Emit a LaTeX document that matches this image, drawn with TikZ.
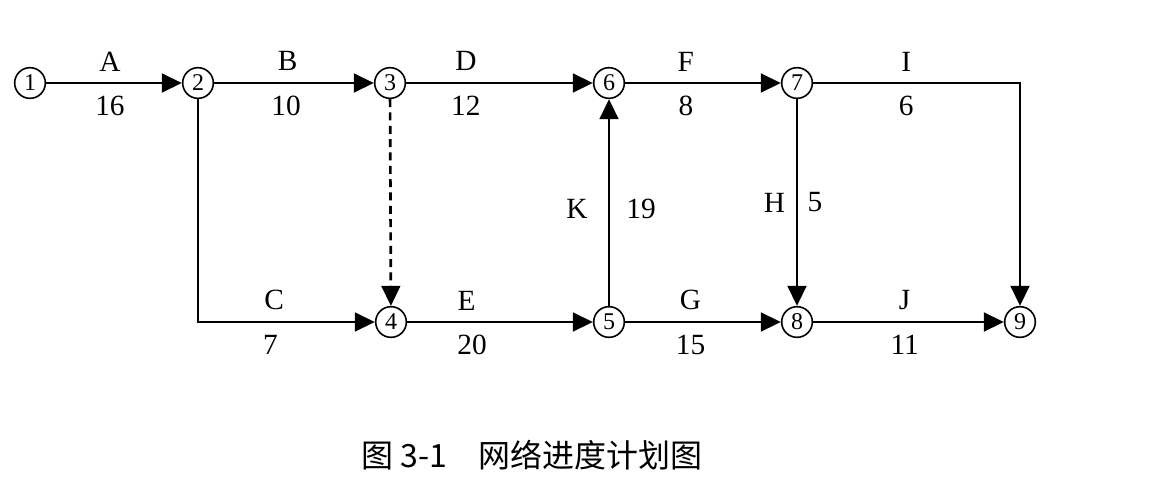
\documentclass[tikz,border=0pt]{standalone}
\usepackage{fontspec}
\setmainfont{Liberation Serif}
\newfontfamily\cjk{Noto Sans CJK SC}
\usetikzlibrary{arrows.meta}
\begin{document}
\begin{tikzpicture}[x=0.75pt,y=-0.75pt,
  ev/.style={circle,draw,line width=1.2pt,minimum size=23pt,inner sep=0pt,font=\fontsize{18}{18}\selectfont},
  act/.style={line width=2pt,-{Triangle[length=15pt,width=14pt]}},
  lbl/.style={font=\fontsize{22}{22}\selectfont,inner sep=0pt},
  ab/.style={lbl,above=8pt},
  bl/.style={lbl,below=9pt}]
\useasboundingbox (0,0) rectangle (1153,486);
\node[ev] (n1) at (30,83) {1};
\node[ev] (n2) at (198,83) {2};
\node[ev] (n3) at (390,83) {3};
\node[ev] (n6) at (609,83) {6};
\node[ev] (n7) at (797,83) {7};
\node[ev] (n4) at (391,322) {4};
\node[ev] (n5) at (609,322) {5};
\node[ev] (n8) at (797,322) {8};
\node[ev] (n9) at (1020,322) {9};
\coordinate (c2) at (198,322);
\coordinate (c7) at (1020,83);
\draw[act] (n1) -- node[ab,pos=0.47]{A} node[bl,pos=0.47]{16} (n2);
\draw[act] (n2) -- node[ab,pos=0.46]{B} node[bl,pos=0.45]{10} (n3);
\draw[act] (n3) -- node[ab,pos=0.32]{D} node[bl,pos=0.32]{12} (n6);
\draw[act] (n6) -- node[ab,pos=0.39]{F} node[bl,pos=0.39]{8} (n7);
\draw[act] (n7) -- node[ab,pos=0.45]{I} node[bl,pos=0.45]{6} (c7) -- (n9);
\draw[act] (n2) -- (c2) -- node[ab,pos=0.43]{C} node[bl,pos=0.41]{7} (n4);
\draw[act,dashed,dash pattern=on 6pt off 4pt] (n3) -- (n4);
\draw[act] (n4) -- node[ab,pos=0.32]{E} node[bl,pos=0.35]{20} (n5);
\draw[act] (n5) -- node[ab,pos=0.42]{G} node[bl,pos=0.42]{15} (n8);
\draw[act] (n8) -- node[ab,pos=0.48]{J} node[bl,pos=0.48]{11} (n9);
\draw[act] (n5) -- node[lbl,left=15pt,pos=0.47]{K} node[lbl,right=12pt,pos=0.47]{19} (n6);
\draw[act] (n7) -- node[lbl,left=8pt,pos=0.5]{H} node[lbl,right=7pt,pos=0.5]{5} (n8);
\node[font=\cjk\fontsize{24}{24}\selectfont,inner sep=0pt] (cap) at (532,455) {图 3-1\quad 网络进度计划图};
\end{tikzpicture}
\end{document}
